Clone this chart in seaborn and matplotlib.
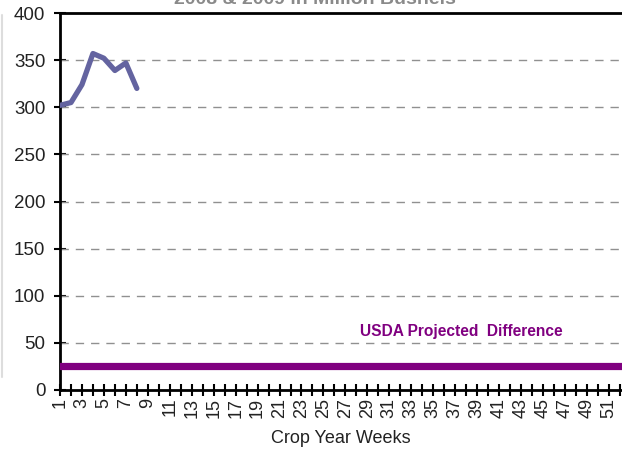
import matplotlib
matplotlib.use("Agg")
import matplotlib.pyplot as plt
import seaborn as sns
import pandas as pd

weeks = [1, 2, 3, 4, 5, 6, 7, 8]
values = [302, 305, 324, 357, 352, 339, 347, 320]
usda_value = 25
usda_label = "USDA Projected  Difference"
title = "2008 & 2009 in Million Bushels"
xlabel = "Crop Year Weeks"
all_weeks = list(range(1, 53))
yticks = [0, 50, 100, 150, 200, 250, 300, 350, 400]

sns.set_theme(style="white")
plt.rcParams['font.family'] = ['Liberation Sans', 'DejaVu Sans']

fig = plt.figure(figsize=(6.22, 4.49), dpi=100)
ax = fig.add_axes([60/622, 1-390/449, 1-60/622, (390-13)/449])

df = pd.DataFrame({"week": weeks, "value": values})
sns.lineplot(data=df, x="week", y="value", ax=ax, color="#6464a0", linewidth=3.8,
             solid_capstyle="round", solid_joinstyle="round", zorder=3)
ax.axhline(usda_value, color="#800080", linewidth=5.2, zorder=3)

ax.set_xlim(1, 52.2)
ax.set_ylim(0, 400)
ax.set_yticks(yticks)
ax.set_yticklabels([str(v) for v in yticks], fontsize=13.5, color="#222222")
ax.set_xticks(all_weeks)
ax.set_xticklabels([str(w) if w % 2 == 1 else "" for w in all_weeks],
                   rotation=90, fontsize=13, color="#222222")
ax.tick_params(axis="both", bottom=True, left=True, direction="inout", length=9,
               width=1.5, color="black")
ax.tick_params(axis="x", pad=1)
ax.tick_params(axis="y", pad=6)

for v in yticks[1:-1]:
    ax.axhline(v, color="#909090", linewidth=1.0, linestyle=(0, (6, 5)), zorder=1)

ax.spines["right"].set_visible(False)
for side in ["left", "bottom", "top"]:
    ax.spines[side].set_color("black")
    ax.spines[side].set_linewidth(2)

ax.set_xlabel(xlabel, fontsize=13, color="#222222", labelpad=9)
ax.set_ylabel("")

ax.text(37.6, 62, usda_label, color="#800080", fontsize=11.2, fontweight="bold",
        ha="center", va="center")

fig.text(315/622, 1-4/449, title, color="#8a8a8a", fontsize=14, fontweight="bold",
         ha="center", va="baseline")

fig.add_artist(plt.Line2D([2/622, 2/622], [1-15/449, 1-377/449], color="#dddddd", linewidth=1.5))

fig.savefig("out.png", dpi=100)
